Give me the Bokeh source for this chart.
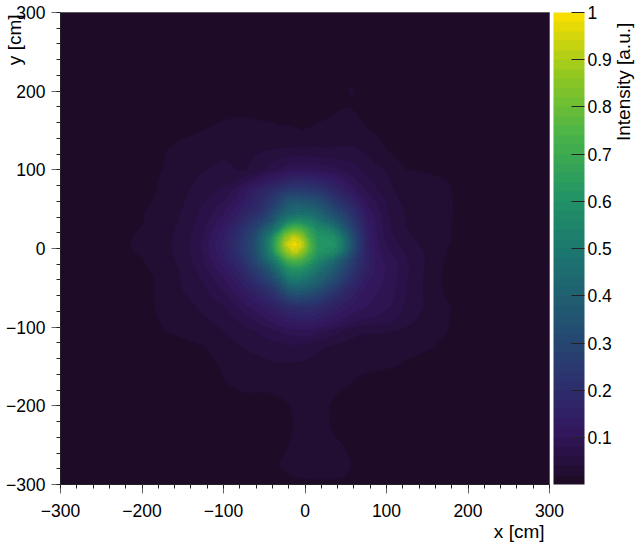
import numpy as np
from bokeh.plotting import figure
from bokeh.embed import file_html
from bokeh.resources import INLINE
from bokeh.models import (Range1d, FixedTicker, ColorBar, LinearColorMapper, Label)

x_cm = [-300,-250,-200,-175,-150,-125,-100,-85,
        -73,-63,-53,-43,-33,-23,-13,-3,7,17,27,37,47,57,67,77,
        90,105,125,150,175,200,250,300]
y_cm = [300,250,200,188,175,150,125,100,85,
        75,65,55,45,35,25,15,5,-5,-15,-25,-35,-45,-55,-65,-75,
        -90,-105,-125,-150,-175,-200,-225,-250,-275,-300]

# intensity in thousandths, rows from y=+300 down to y=-300
intensity_milli = [
 [3,3,3,3,3,3,3,3, 3,3,3,3,3,3,3,3,3,3,3,3,3,3,3,3, 3,3,3,3,3,3,3,3],
 [3,3,4,4,4,4,4,4, 4,4,4,4,4,4,4,4,4,4,5,5,6,6,6,6, 5,5,5,4,4,4,3,3],
 [3,4,5,6,7,8,8,8, 8,8,8,8,8,8,8,8,9,10,11,13,17,24,16,11, 9,8,8,7,6,5,4,3],
 [3,4,7,8,10,11,13,14, 14,13,13,12,12,12,12,12,13,14,15,16,17,18,16,13, 11,9,9,7,6,5,4,3],
 [3,5,9,11,13,15,18,19, 19,18,18,17,16,16,16,16,17,18,19,20,22,22,19,16, 13,11,10,8,6,5,4,3],
 [3,6,12,15,18,21,24,25, 25,25,24,24,23,23,22,21,22,23,24,25,25,25,24,22, 19,15,11,9,7,6,4,3],
 [3,7,16,20,25,29,38,38, 36,37,39,41,43,44,44,44,45,44,44,44,45,45,42,36, 25,19,14,10,8,6,4,3],
 [3,7,17,21,30,40,45,41, 40,48,58,70,80,90,100,100,98,92,88,84,78,70,62,54, 45,36,21,20,14,8,4,3],
 [3,8,18,22,34,46,55,60, 80,95,115,135,150,170,185,188,180,170,155,135,115,95,78,66, 52,41,26,24,22,9,4,3],
 [3,8,17,22,36,50,65,85, 115,140,165,190,215,240,250,250,235,225,195,170,140,115,90,75, 60,43,30,26,23,10,4,3],
 [3,8,18,23,38,55,75,100, 125,160,190,225,270,320,330,325,320,295,265,215,175,150,110,90, 70,48,33,27,24,11,4,3],
 [3,9,19,25,40,62,88,118, 150,165,200,250,310,370,400,395,385,355,315,265,225,190,140,100, 78,52,36,28,24,12,4,3],
 [3,9,20,27,43,66,100,135, 175,205,225,300,365,430,450,455,450,420,365,320,275,215,165,115, 85,56,38,29,24,12,4,3],
 [3,10,20,29,45,70,115,155, 200,240,285,340,450,530,580,575,550,490,440,390,330,260,190,125, 90,60,39,30,23,12,4,3],
 [3,10,22,31,47,75,130,180, 235,280,365,440,540,700,760,730,640,570,540,490,400,300,210,140, 92,62,40,30,23,12,4,3],
 [3,11,24,33,49,80,140,195, 250,310,405,520,700,860,930,860,700,610,600,580,480,350,240,150, 95,65,47,31,23,12,4,3],
 [3,11,25,34,50,85,150,205, 260,320,420,550,750,930,1000,930,740,620,610,600,500,360,240,150, 100,72,52,34,22,11,4,3],
 [3,11,23,33,49,82,145,200, 255,315,415,530,710,860,930,860,720,610,590,560,460,340,230,150, 105,82,58,38,20,10,4,3],
 [3,10,20,31,47,78,135,185, 240,295,370,470,580,720,760,730,650,560,500,440,360,280,200,150, 108,90,62,38,18,9,4,3],
 [3,9,18,28,45,72,120,160, 205,260,315,385,480,590,630,610,550,490,430,375,315,245,195,150, 110,95,65,37,16,8,4,3],
 [3,8,16,25,43,65,105,140, 180,225,265,320,400,510,540,525,480,430,385,335,280,215,170,135, 110,92,62,36,15,8,4,3],
 [3,8,16,24,42,60,92,122, 155,190,225,265,330,420,460,450,420,380,330,290,235,190,150,120, 105,90,60,35,15,8,4,3],
 [3,7,16,24,41,56,80,105, 130,155,180,215,265,340,370,365,340,310,275,235,190,160,130,110, 100,88,60,36,17,9,4,3],
 [3,7,16,24,36,50,70,92, 110,130,150,175,210,255,280,280,270,250,215,185,160,135,115,105, 95,85,58,37,20,10,4,3],
 [3,6,16,24,33,45,60,78, 92,108,122,140,160,185,200,205,205,190,170,150,130,118,105,100, 92,80,56,38,23,11,4,3],
 [3,5,14,23,30,38,50,62, 72,82,92,105,118,132,140,150,148,140,125,112,100,90,82,78, 75,70,48,34,22,10,4,3],
 [3,5,12,20,26,32,41,50, 55,60,66,72,80,88,92,95,92,86,78,70,60,50,44,43, 43,42,37,27,21,9,4,3],
 [3,5,8,11,15,20,30,38, 44,47,50,52,53,55,58,56,52,44,41,37,34,32,31,30, 29,28,26,23,17,8,4,3],
 [3,4,6,8,10,13,23,26, 28,30,33,36,38,37,36,35,33,31,29,28,27,26,25,24, 23,22,18,13,9,6,4,3],
 [3,4,5,6,7,9,20,22, 24,24,23,23,24,25,26,26,26,26,25,24,22,20,16,14, 12,11,9,7,6,5,4,3],
 [3,3,4,5,6,7,10,13, 15,15,16,17,18,20,22,24,24,24,22,18,15,13,11,9, 8,7,6,5,5,4,3,3],
 [3,3,4,4,5,6,7,8, 9,10,11,13,15,17,21,23,24,24,23,17,13,11,9,8, 7,6,5,5,4,4,3,3],
 [3,3,4,4,5,5,6,7, 8,9,11,13,16,20,23,24,25,25,25,24,21,14,10,8, 7,6,5,4,4,4,3,3],
 [3,3,3,4,4,5,6,7, 8,10,13,17,21,23,24,25,26,26,26,26,25,21,14,9, 6,5,4,4,3,3,3,3],
 [3,3,3,3,4,4,5,6, 7,8,11,14,16,18,19,19,19,19,19,19,19,17,11,7, 5,4,3,3,3,3,3,3],
]

axis_ticks = [-300,-200,-100,0,100,200,300]
axis_tick_labels = {-300:"\u2212300",-200:"\u2212200",-100:"\u2212100",0:"0",100:"100",200:"200",300:"300"}
bar_ticks = [0.1,0.2,0.3,0.4,0.5,0.6,0.7,0.8,0.9,1.0]
bar_tick_labels = {0.1:"0.1",0.2:"0.2",0.3:"0.3",0.4:"0.4",0.5:"0.5",0.6:"0.6",0.7:"0.7",0.8:"0.8",0.9:"0.9",1.0:"1"}
z_low, z_high = 0.001, 1.0
n_bands = 50

# ROOT viridis colour stops
stop_r = [26,51,43,33,28,35,74,144,246]
stop_g = [9,24,55,87,118,150,180,200,222]
stop_b = [30,96,112,114,112,101,72,35,0]
t = (np.arange(n_bands)+1.0)/n_bands*8
stops = np.arange(9)
palette = ["#%02x%02x%02x" % (int(np.interp(a,stops,stop_r)),int(np.interp(a,stops,stop_g)),int(np.interp(a,stops,stop_b))) for a in t]
levels = list(np.linspace(z_low,z_high,n_bands+1))

FONT = "Liberation Sans"
FS = "17.5px"
FS_TITLE = "19px"

p = figure(width=636, height=544, output_backend="svg", toolbar_location=None,
           x_range=Range1d(-300,300), y_range=Range1d(-300,300),
           min_border_left=60, min_border_right=87, min_border_top=12, min_border_bottom=60)
p.background_fill_color = palette[0]
p.grid.visible = False
p.outline_line_color = "#777777"

z = np.array(intensity_milli[::-1], dtype=float)/1000.0
cr = p.contour(x_cm, y_cm[::-1], z, levels=levels, fill_color=palette,
               line_color=palette+[palette[-1]], line_width=1)

for ax in (p.xaxis[0], p.yaxis[0]):
    ax.ticker = FixedTicker(ticks=axis_ticks, minor_ticks=list(range(-300,301,20)))
    ax.major_label_overrides = axis_tick_labels
    ax.major_tick_in = 0
    ax.major_tick_out = 9
    ax.minor_tick_in = 0
    ax.minor_tick_out = 4
    ax.major_tick_line_color = "#666666"
    ax.minor_tick_line_color = "#222222"
    ax.axis_line_color = "#222222"
    ax.major_label_text_font = FONT
    ax.major_label_text_font_size = FS
    ax.major_label_text_color = "#000000"
p.xaxis[0].major_label_standoff = 10
p.yaxis[0].major_label_standoff = 6
p.yaxis[0].major_label_orientation = "horizontal"

mapper = LinearColorMapper(palette=palette, low=z_low, high=z_high)
cb = ColorBar(color_mapper=mapper, location=(493,0), width=31, height=472, padding=0,
              ticker=FixedTicker(ticks=bar_ticks), major_label_overrides=bar_tick_labels,
              major_tick_in=13, major_tick_out=0, major_tick_line_color="#222222",
              minor_tick_line_color=None, bar_line_color=None,
              label_standoff=3, background_fill_alpha=0, border_line_color=None,
              major_label_text_font=FONT, major_label_text_font_size=FS,
              major_label_text_color="#000000")
p.add_layout(cb)

def lab(text, x, y, angle, side):
    p.add_layout(Label(text=text, x=x, y=y, angle=angle, angle_units="rad",
                       text_align="right", text_baseline="alphabetic",
                       text_font=FONT, text_font_size=FS_TITLE, text_color="#000000"), side)
lab("x [cm]", 293.9, -359.7, 0, "below")
lab("y [cm]", -356, 297.5, np.pi/2, "right")
lab("Intensity [a.u.]", 391, 287, np.pi/2, "right")

open("out.html","w").write(file_html(p, INLINE))
